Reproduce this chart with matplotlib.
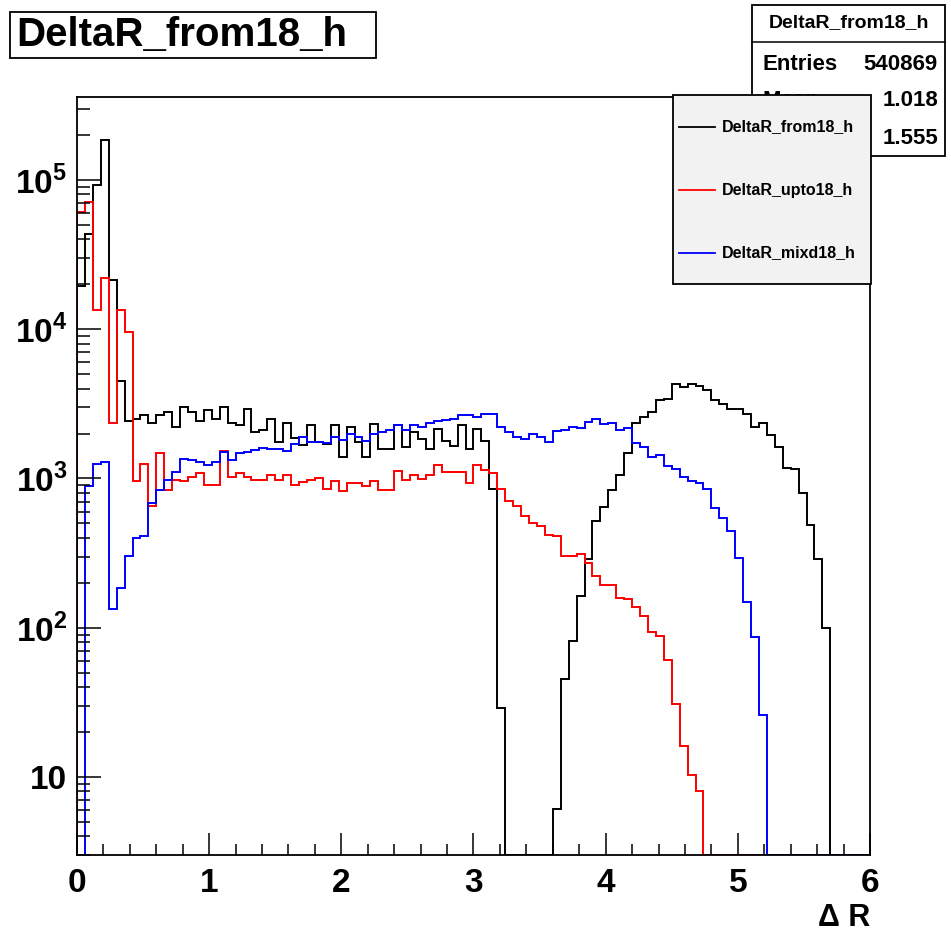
import numpy as np
import matplotlib
matplotlib.use("Agg")
import matplotlib.pyplot as plt
from matplotlib.patches import Rectangle
from matplotlib.lines import Line2D
from matplotlib.ticker import FixedLocator, MultipleLocator, NullFormatter

plt.rcParams['font.family'] = ['Liberation Sans', 'DejaVu Sans']
plt.rcParams['mathtext.fontset'] = 'custom'
plt.rcParams['mathtext.rm'] = 'Liberation Sans:bold'
plt.rcParams['mathtext.bf'] = 'Liberation Sans:bold'

# 100 bins of width 0.06 in Delta R
bin_edges = np.linspace(0, 6, 101)

from18 = [19600, 43700, 92600, 186000, 21500, 4500, 2410, 2520, 2650, 2370,
          2650, 2800, 2200, 3000, 2800, 2440, 2870, 2500, 3020, 2370,
          2290, 2920, 2040, 2100, 2520, 1760, 2340, 1880, 1680, 2280,
          1750, 1700, 2280, 1390, 2200, 1760, 1390, 2320, 1580, 1580,
          2280, 1630, 2040, 1840, 1580, 2150, 1790, 1660, 2280, 1580,
          2150, 1790, 853, 29, 0, 0, 0, 0, 0, 0,
          6.1, 45, 82, 163, 287, 517, 644, 840, 1057, 1474,
          2370, 2590, 2800, 3350, 3430, 4320, 4120, 4280, 4170, 3900,
          3350, 3180, 2940, 2940, 2720, 2220, 2340, 1950, 1630, 1170,
          1150, 798, 491, 287, 99.6, 0, 0, 0, 0, 0]

upto18 = [61000, 71000, 13500, 21900, 2340, 13500, 9600, 960, 1250, 650,
          1475, 832, 980, 960, 1030, 1085, 898, 898, 1540, 1020,
          1085, 1030, 980, 980, 1057, 970, 1057, 908, 946, 970,
          1004, 845, 960, 819, 935, 935, 885, 960, 840, 840,
          1118, 970, 1057, 985, 1057, 1233, 1100, 1100, 1100, 935,
          1233, 1142, 1085, 853, 710, 650, 558, 504, 479, 421,
          412, 302, 302, 311, 270, 222, 193, 193, 159, 155,
          137, 120, 93, 87.5, 60.5, 30.7, 16.2, 10.3, 8.1, 0,
          0, 0, 0, 0, 0, 0, 0, 0, 0, 0,
          0, 0, 0, 0, 0, 0, 0, 0, 0, 0]

mixd18 = [0, 885, 1253, 1298, 133, 186, 303, 402, 410, 685,
          840, 980, 1113, 1353, 1330, 1298, 1233, 1290, 1514, 1330,
          1475, 1500, 1553, 1610, 1580, 1580, 1540, 1700, 1890, 1750,
          1760, 1740, 1900, 1810, 2000, 1900, 1790, 1990, 2060, 2110,
          2280, 2110, 2280, 2220, 2340, 2440, 2450, 2520, 2670, 2670,
          2590, 2720, 2720, 2200, 2040, 1900, 1840, 2000, 1900, 1760,
          2070, 2110, 2220, 2170, 2400, 2520, 2320, 2350, 2110, 2170,
          1720, 1630, 1390, 1440, 1220, 1160, 1020, 955, 930, 845,
          638, 544, 443, 294, 148, 86.7, 26, 0, 0, 0,
          0, 0, 0, 0, 0, 0, 0, 0, 0, 0]

series = [("DeltaR_from18_h", from18, "black"),
          ("DeltaR_upto18_h", upto18, "#ff0000"),
          ("DeltaR_mixd18_h", mixd18, "#0000ff")]

entries = "540869"
mean = "1.018"
rms = "1.555"

W, H = 951, 943
def fx(x):
    return x / W
def fy(y):
    return 1 - y / H

ymin, ymax = 3.0, 3.6e5

fig = plt.figure(figsize=(W / 100, H / 100), dpi=100)
ax = fig.add_axes([fx(77), fy(855), fx(870) - fx(77), fy(97) - fy(855)])

for name, vals, col in series:
    v = np.array(vals, dtype=float)
    v = np.where(v > 0, v, ymin)   # empty bins sit on the lower frame, as in ROOT
    ax.stairs(v, bin_edges, baseline=ymin, color=col, lw=1.4)

ax.set_yscale('log')
ax.set_xlim(0, 6)
ax.set_ylim(ymin, ymax)

ax.xaxis.set_major_locator(MultipleLocator(1))
ax.xaxis.set_minor_locator(MultipleLocator(0.2))
ax.xaxis.set_major_formatter(plt.FuncFormatter(lambda v, p: f"{int(round(v))}"))

ymajor = [10, 100, 1000, 10000, 100000]
ylabels = ["10", r"$10^{2}$", r"$10^{3}$", r"$10^{4}$", r"$10^{5}$"]
ax.yaxis.set_major_locator(FixedLocator(ymajor))
ax.set_yticklabels(ylabels)
minors = [m * 10 ** e for e in range(0, 6) for m in range(2, 10)]
minors = [m for m in minors if ymin <= m <= ymax and m not in ymajor]
ax.yaxis.set_minor_locator(FixedLocator(minors))
ax.yaxis.set_minor_formatter(NullFormatter())

# tick lengths in points (1 px = 0.72 pt at 100 dpi)
ax.tick_params(axis='both', which='both', direction='in', top=False, right=False,
               width=1.1, colors='black')
ax.tick_params(axis='x', which='major', length=16, pad=9, labelsize=24)
ax.tick_params(axis='x', which='minor', length=8)
ax.tick_params(axis='y', which='major', length=17, pad=7, labelsize=24)
ax.tick_params(axis='y', which='minor', length=9)
for lab in ax.get_xticklabels() + ax.get_yticklabels():
    lab.set_fontweight('bold')
for sp in ax.spines.values():
    sp.set_linewidth(1.3)

fig.text(fx(870), fy(918), "Δ R", ha='right', va='center', fontsize=22,
         fontweight='bold')

# title box
fig.add_artist(Rectangle((fx(10), fy(58)), fx(376) - fx(10), fy(12) - fy(58),
                         transform=fig.transFigure, fill=False, lw=1.3,
                         edgecolor='black'))
fig.text(fx(16), fy(35), "DeltaR_from18_h", ha='left', va='center',
         fontsize=29, fontweight='bold')

# stats box
fig.add_artist(Rectangle((fx(752), fy(156)), fx(945) - fx(752), fy(5) - fy(156),
                         transform=fig.transFigure, facecolor='white',
                         edgecolor='black', lw=1.3, zorder=5))
fig.add_artist(Line2D([fx(752), fx(945)], [fy(42), fy(42)],
                      transform=fig.transFigure, color='black', lw=1.1, zorder=6))
fig.text(fx(849), fy(23), "DeltaR_from18_h", ha='center', va='center',
         fontsize=14, fontweight='bold', zorder=6)
stat_rows = [("Entries", entries, 64), ("Mean", mean, 101), ("RMS", rms, 138)]
for lab, val, yy in stat_rows:
    fig.text(fx(762), fy(yy), lab, ha='left', va='center', fontsize=16,
             fontweight='bold', zorder=6)
    fig.text(fx(938), fy(yy), val, ha='right', va='center', fontsize=16,
             fontweight='bold', zorder=6)

# legend, drawn over the stats box
fig.add_artist(Rectangle((fx(673), fy(284)), fx(871) - fx(673), fy(95) - fy(284),
                         transform=fig.transFigure, facecolor='#f2f2f2',
                         edgecolor='black', lw=1.3, zorder=10))
for (name, vals, col), yy in zip(series, [127, 190, 253]):
    fig.add_artist(Line2D([fx(679), fx(715)], [fy(yy), fy(yy)],
                          transform=fig.transFigure, color=col, lw=1.3, zorder=11))
    fig.text(fx(722), fy(yy), name, ha='left', va='center', fontsize=11.5,
             fontweight='bold', zorder=11)

fig.savefig("out.png", dpi=100)
